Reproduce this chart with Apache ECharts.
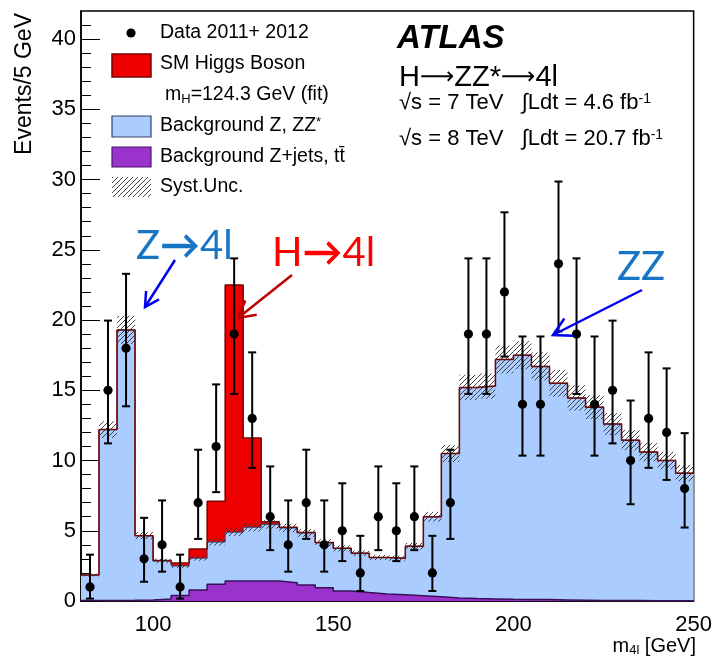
<!DOCTYPE html>
<html><head><meta charset="utf-8">
<script src="https://cdn.jsdelivr.net/npm/echarts@6/dist/echarts.min.js"></script>
<style>html,body{margin:0;padding:0;background:#fff}#c{width:715px;height:658px}</style>
</head><body><div id="c"></div>
<script>
// ---- data ----
const binLow = [80,85,90,95,100,105,110,115,120,125,130,135,140,145,150,155,160,165,170,175,180,185,190,195,200,205,210,215,220,225,230,235,240,245];
const binWidth = 5;
const dataCounts = [1,15,18,3,4,1,7,11,19,13,6,4,7,4,5,2,6,5,6,2,7,19,19,22,14,14,24,19,14,15,10,13,12,8];
const dataLow  = [0.17,11.22,13.86,1.37,2.09,0.17,4.42,7.75,14.74,9.48,3.62,2.09,4.42,2.09,2.84,0.71,3.62,2.84,3.62,0.71,4.42,14.74,14.74,17.40,10.35,10.35,19.19,14.74,10.35,11.22,6.89,9.48,8.62,5.23];
const dataHigh = [3.30,19.96,23.29,5.92,7.16,3.30,10.77,15.42,24.39,17.70,9.58,7.16,10.77,7.16,8.38,4.64,9.58,8.38,9.58,4.64,10.77,24.39,24.39,27.67,18.83,18.83,29.86,24.39,18.83,19.96,14.27,17.70,16.56,11.95];
const zjets = [0.03,0.04,0.05,0.08,0.15,0.4,0.78,1.2,1.42,1.42,1.42,1.3,1.14,0.95,0.72,0.6,0.5,0.45,0.38,0.3,0.22,0.18,0.15,0.12,0.1,0.1,0.08,0.06,0.04,0.03,0.03,0.02,0.02,0.02];
const zz = [1.82,12.16,19.25,4.57,2.70,2.10,2.27,3.00,3.48,3.83,4.03,3.90,3.71,3.20,3.03,2.80,2.60,2.60,3.52,5.70,10.28,15.02,15.15,17.08,17.40,16.60,15.42,14.39,13.76,12.57,11.42,10.58,9.98,9.08];
const higgs = [0,0,0,0,0.03,0.2,0.65,2.9,17.6,6.35,0.2,0.05,0.02,0.01,0,0,0,0,0,0,0,0,0,0,0,0,0,0,0,0,0,0,0,0];
const syst = [0.1,0.6,1.0,0.25,0.17,0.15,0.18,0.25,0.28,0.3,0.3,0.3,0.28,0.25,0.22,0.2,0.18,0.18,0.23,0.35,0.6,0.9,0.9,1.0,1.0,1.0,0.95,0.9,0.85,0.78,0.72,0.66,0.62,0.58];
const xMajor = [100,150,200,250];
const xMinor = [90,110,120,130,140,160,170,180,190,210,220,230,240];
const yMajor = [0,5,10,15,20,25,30,35,40];
const yMinor = [1,2,3,4,6,7,8,9,11,12,13,14,16,17,18,19,21,22,23,24,26,27,28,29,31,32,33,34,36,37,38,39,41];

// ---- stacking ----
const purpleTop = zjets.slice();
const blueTop = zjets.map((v,i)=>v+zz[i]);
const redTop = blueTop.map((v,i)=>v+higgs[i]);
const xEnd = binLow[binLow.length-1]+binWidth;
function stepData(arr){ const d = binLow.map((x,i)=>[x,arr[i]]); d.push([xEnd, arr[arr.length-1]]); return d; }

function makeHatch(){
  const s=5, c=document.createElement('canvas'); c.width=s; c.height=s;
  const g=c.getContext('2d'); g.strokeStyle='rgba(50,50,50,0.9)'; g.lineWidth=1;
  g.beginPath(); g.moveTo(0,s); g.lineTo(s,0); g.moveTo(-1,1); g.lineTo(1,-1); g.moveTo(s-1,s+1); g.lineTo(s+1,s-1); g.stroke();
  return c;
}
const hatch = makeHatch();
const FONT = '"Liberation Sans", Arial, sans-serif';
const AFONT = 'Lato, "Open Sans", sans-serif';

const chart = echarts.init(document.getElementById('c'));

function arrow(x1,y1,x2,y2,color,w,L){
  const a=Math.atan2(y2-y1,x2-x1), ang=0.5;
  return [
    {type:'line',shape:{x1,y1,x2,y2},style:{stroke:color,lineWidth:w}},
    {type:'polyline',shape:{points:[[x2-L*Math.cos(a-ang),y2-L*Math.sin(a-ang)],[x2,y2],[x2-L*Math.cos(a+ang),y2-L*Math.sin(a+ang)]]},style:{stroke:color,lineWidth:w,fill:null}}
  ];
}
function txt(x,y,text,font,extra){
  return {type:'text',x,y,z:100,style:Object.assign({text,font,fill:'#000',align:'left',verticalAlign:'middle',textAlign:'left',textVerticalAlign:'middle'},extra||{})};
}
const lg = 19.5;
const supS = (fs)=>({font:fs+'px '+FONT,fill:'#000',verticalAlign:'top',padding:[0,0,8,0]});
const subS = (fs)=>({font:fs+'px '+FONT,fill:'#000',verticalAlign:'bottom',padding:[8,0,0,0]});
const graphics = [
  // y axis title
  {type:'text',x:25,y:13,rotation:Math.PI/2,z:100,style:{text:'Events/5 GeV',font:'23px '+FONT,fill:'#000',align:'right',verticalAlign:'middle',textAlign:'right',textVerticalAlign:'middle'}},
  // legend
  {type:'circle',shape:{cx:131,cy:33,r:4.6},style:{fill:'#000'},z:100},
  txt(160,33,'Data 2011+ 2012',lg+'px '+FONT),
  {type:'rect',shape:{x:112,y:54,width:39,height:23},style:{fill:'#ee0000',stroke:'#7a0000',lineWidth:1.5},z:100},
  txt(160,64,'SM Higgs Boson',lg+'px '+FONT),
  txt(165,95,'{n|m}{sub|H}{n|=124.3 GeV (fit)}',lg+'px '+FONT,{rich:{n:{font:lg+'px '+FONT,fill:'#000'},sub:subS(13)}}),
  {type:'rect',shape:{x:112,y:116,width:39,height:21},style:{fill:'#aaccff',stroke:'#34406a',lineWidth:1.2},z:100},
  txt(160,126,'{n|Background Z, ZZ}{sup|*}',lg+'px '+FONT,{rich:{n:{font:lg+'px '+FONT,fill:'#000'},sup:supS(13)}}),
  {type:'rect',shape:{x:112,y:147,width:39,height:20},style:{fill:'#9933cc',stroke:'#4a1470',lineWidth:1.2},z:100},
  txt(160,157,'Background Z+jets, t\u0074\u0304',lg+'px '+FONT),
  {type:'rect',shape:{x:112,y:177,width:39,height:20},style:{fill:{image:hatch,repeat:'repeat'}},z:100},
  txt(160,187,'Syst.Unc.',lg+'px '+FONT),
  // ATLAS block
  txt(397,39,'ATLAS','italic bold 33px '+FONT),
  txt(399,78,'{n|H}{a|\u27F6}{n|ZZ*}{a|\u27F6}{n|4l}','29px '+FONT,{rich:{n:{font:'29px '+FONT,fill:'#000'},a:{font:'24px "DejaVu Sans"',fill:'#000'}}}),
  txt(399,103,'{n|\u221As = 7 TeV   \u222BLdt = 4.6 fb}{sup|-1}','22px '+FONT,{rich:{n:{font:'22px '+FONT,fill:'#000'},sup:supS(14)}}),
  txt(399,139,'{n|\u221As = 8 TeV   \u222BLdt = 20.7 fb}{sup|-1}','22px '+FONT,{rich:{n:{font:'22px '+FONT,fill:'#000'},sup:supS(14)}}),
  // x axis title
  txt(696,646,'{n|m}{sub|4l}{n| [GeV]}','20px '+FONT,{align:'right',textAlign:'right',rich:{n:{font:'20px '+FONT,fill:'#000'},sub:subS(13)}}),
  // annotations
  txt(136,246,'{t|Z}{a|\u2192}{t|4l}','40px '+AFONT,{rich:{t:{font:'40px '+AFONT,fill:'#1874c4'},a:{font:'bold 40px '+AFONT,fill:'#1874c4'}}}),
  txt(272,253,'{t|H}{a|\u2192}{t|4l}','40px '+AFONT,{rich:{t:{font:'40px '+AFONT,fill:'#ff0000'},a:{font:'bold 40px '+AFONT,fill:'#ff0000'}}}),
  txt(617,267,'ZZ','40px '+AFONT,{fill:'#1874c4'})
].concat(arrow(175,260,145,307,'#0000ee',2.5,16))
 .concat(arrow(292,275,238,318,'#c00000',2.5,19))
 .concat(arrow(642,290,553,335,'#0000ee',2.5,20));
graphics.forEach(g=>{ if(g.z==null) g.z=100; });

const option = {
  animation:false,
  backgroundColor:'#fff',
  grid:{left:81,right:19,top:11,bottom:57,show:true,borderColor:'#000',borderWidth:1.5,backgroundColor:'transparent'},
  xAxis:[
    {type:'value',min:80,max:250,interval:10,position:'bottom',
     axisLine:{show:true,lineStyle:{color:'#000',width:1.5}},
     axisTick:{show:true,inside:true,length:17,customValues:xMajor,lineStyle:{color:'#000',width:1}},
     axisLabel:{show:true,customValues:xMajor,margin:13,fontSize:22,fontFamily:'Liberation Sans',color:'#000'},
     splitLine:{show:false}},
    {type:'value',min:80,max:250,interval:10,position:'bottom',
     axisLine:{show:false},
     axisTick:{show:true,inside:true,length:8,customValues:xMinor,lineStyle:{color:'#000',width:1}},
     axisLabel:{show:false},splitLine:{show:false}}
  ],
  yAxis:[
    {type:'value',min:0,max:42,interval:5,position:'left',
     axisLine:{show:true,lineStyle:{color:'#000',width:1.5}},
     axisTick:{show:true,inside:true,length:19,customValues:yMajor,lineStyle:{color:'#000',width:1}},
     axisLabel:{show:true,customValues:yMajor,margin:5,fontSize:22,fontFamily:'Liberation Sans',color:'#000'},
     splitLine:{show:false}},
    {type:'value',min:0,max:42,interval:5,position:'left',
     axisLine:{show:false},
     axisTick:{show:true,inside:true,length:10,customValues:yMinor,lineStyle:{color:'#000',width:1}},
     axisLabel:{show:false},splitLine:{show:false}}
  ],
  series:[
    {type:'line',step:'end',data:stepData(redTop),symbol:'none',lineStyle:{width:0},areaStyle:{color:'#ee0000',opacity:1,origin:'start'},z:1,silent:true},
    {type:'line',step:'end',data:stepData(blueTop),symbol:'none',lineStyle:{width:0},areaStyle:{color:'#aaccff',opacity:1,origin:'start'},z:2,silent:true},
    {type:'line',step:'end',data:stepData(purpleTop),symbol:'none',lineStyle:{width:0},areaStyle:{color:'#9933cc',opacity:1,origin:'start'},z:3,silent:true},
    {type:'line',step:'end',data:stepData(purpleTop),symbol:'none',lineStyle:{width:1.5,color:'#3a0f5a'},z:4,silent:true},
    {type:'line',step:'end',data:stepData(blueTop),symbol:'none',lineStyle:{width:1,color:'#34406a'},z:4,silent:true},
    {type:'line',step:'end',data:stepData(redTop),symbol:'none',lineStyle:{width:1.5,color:'#7a0000'},z:5,silent:true},
    {type:'custom',z:6,silent:true,encode:{x:[0,1],y:[2,3]},
     data:binLow.map((x,i)=>[x,x+binWidth,blueTop[i]-syst[i],blueTop[i]+syst[i]]),
     renderItem:(p,api)=>{
       const a=api.coord([api.value(0),api.value(3)]), b=api.coord([api.value(1),api.value(2)]);
       return {type:'rect',shape:{x:a[0],y:a[1],width:b[0]-a[0],height:b[1]-a[1]},style:{fill:{image:hatch,repeat:'repeat'}}};
     }},
    {type:'custom',z:10,silent:true,encode:{x:0,y:[1,2,3]},
     data:binLow.map((x,i)=>[x+binWidth/2,dataCounts[i],dataLow[i],dataHigh[i]]),
     renderItem:(p,api)=>{
       const cx=api.value(0);
       const pt=api.coord([cx,api.value(1)]), pl=api.coord([cx,api.value(2)]), ph=api.coord([cx,api.value(3)]);
       const cw=4, st={stroke:'#000',lineWidth:2};
       return {type:'group',children:[
         {type:'line',shape:{x1:pl[0],y1:pl[1],x2:ph[0],y2:ph[1]},style:st},
         {type:'line',shape:{x1:ph[0]-cw,y1:ph[1],x2:ph[0]+cw,y2:ph[1]},style:st},
         {type:'line',shape:{x1:pl[0]-cw,y1:pl[1],x2:pl[0]+cw,y2:pl[1]},style:st},
         {type:'circle',shape:{cx:pt[0],cy:pt[1],r:4.6},style:{fill:'#000'}}
       ]};
     }}
  ],
  graphic:{elements:graphics}
};
chart.setOption(option);
</script></body></html>
